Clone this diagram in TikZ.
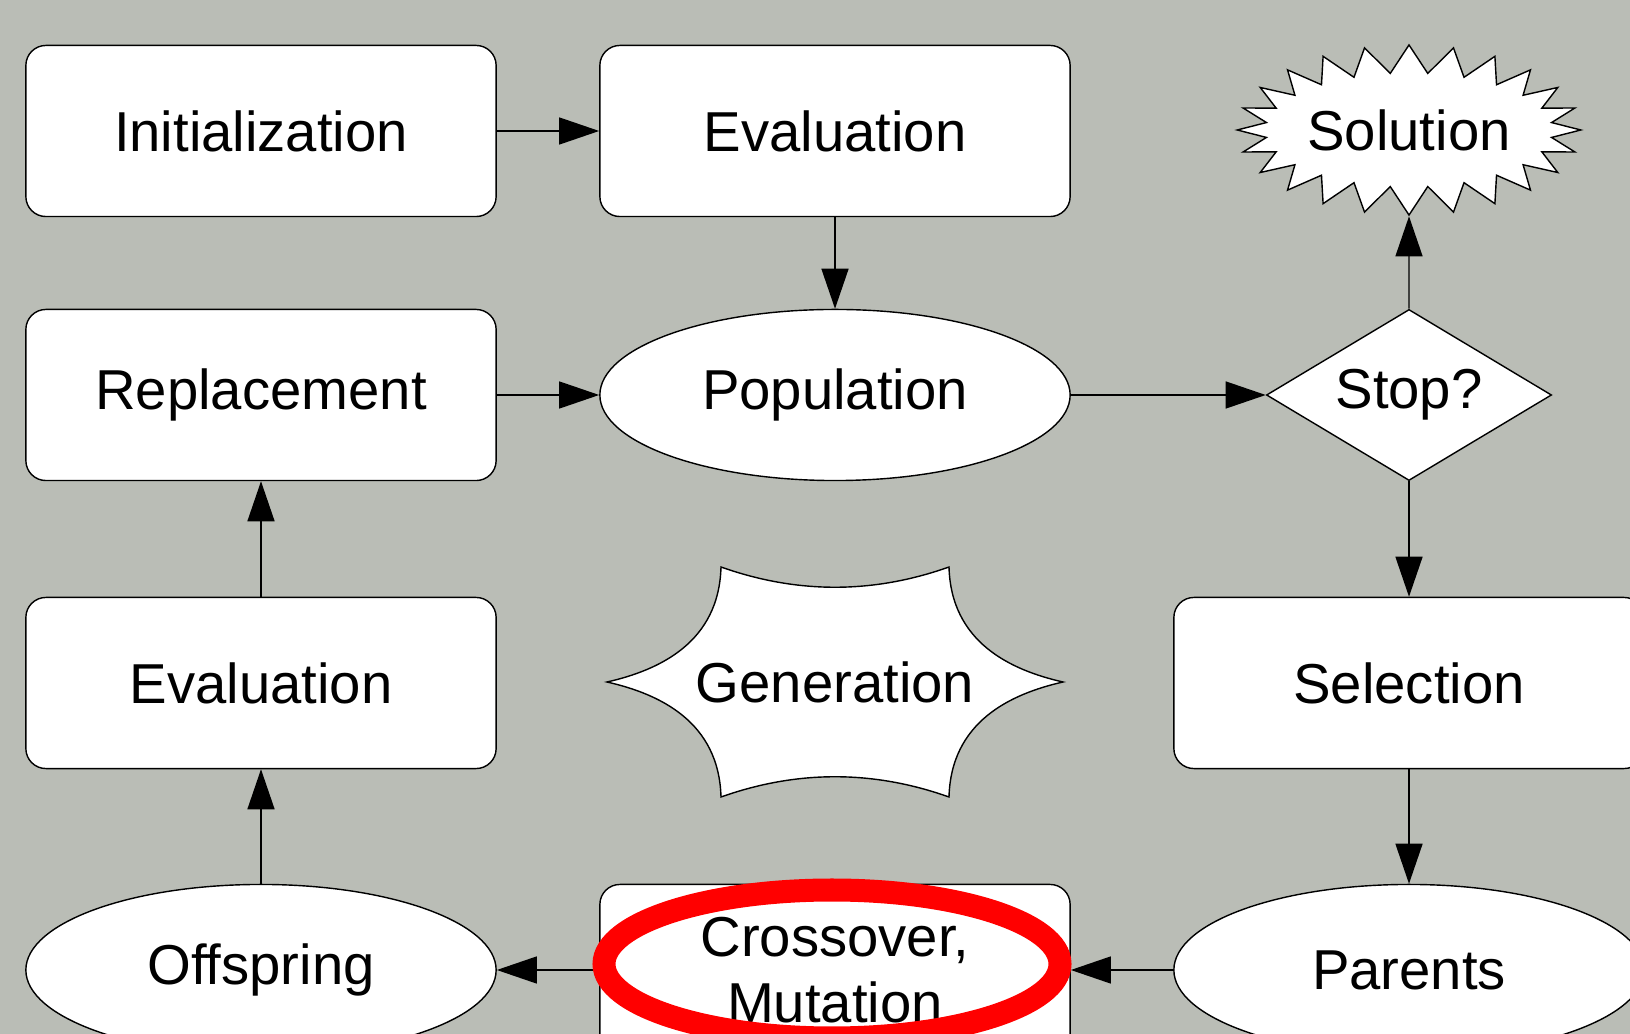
\documentclass[tikz,border=0pt]{standalone}
\usepackage{fontspec}
\setmainfont{Liberation Sans}
\usetikzlibrary{shapes.geometric,shapes.symbols,arrows.meta}
\definecolor{aluminium}{HTML}{BABDB6}

\tikzset{
  every node/.style={font=\fontsize{16}{18.6}\selectfont},
  rbox/.style={draw,fill=white,rectangle,rounded corners=0.2cm,minimum width=4.7cm,minimum height=1.71cm,inner sep=0pt},
  oval/.style={draw,fill=white,ellipse,minimum width=4.7cm,minimum height=1.71cm,inner sep=0pt},
  decide/.style={draw,fill=white,diamond,shape aspect=1.667,minimum width=2.85cm,minimum height=1.71cm,inner sep=0pt},
  burst/.style={draw,fill=white,starburst,starburst points=24,starburst point height=0.28cm,random starburst=0,minimum width=3.38cm,minimum height=1.7cm,inner sep=0pt},
  link/.style={draw,line width=0.4pt,-{Triangle[length=0.4cm,width=0.27cm]}}
}

\begin{document}
\begin{tikzpicture}[x=0.01cm,y=-0.01cm,line width=0.4pt]
  \useasboundingbox (0,0) rectangle (1630,1034);
  \clip (0,0) rectangle (1630,1034);
  \fill[aluminium] (0,0) rectangle (1630,1034);

  \node[rbox] (init) at (261,131) {Initialization};
  \node[rbox] (evalA) at (835,131) {Evaluation};
  \node[burst] (sol) at (1409,130) {Solution};
  \node[rbox] (repl) at (261,395) {Replacement};
  \node[oval] (pop) at (835,395) {Population};
  \node[decide] (stop) at (1409,395) {Stop?};
  \node[rbox] (evalB) at (261,683) {Evaluation};
  \node[rbox] (sel) at (1409,683) {Selection};
  \node[oval] (off) at (261,970) {Offspring};
  \node[rbox,align=center] (cross) at (835,970) {Crossover,\\Mutation};
  \node[oval] (par) at (1409,970) {Parents};

  \draw[fill=white,shift={(835,682)}] (-228,0) .. controls (-175,-12) and (-116,-40) .. (-114,-115)
    .. controls (-38,-88) and (38,-88) .. (114,-115) .. controls (116,-40) and (175,-12) .. (228,0)
    .. controls (175,12) and (116,40) .. (114,115) .. controls (38,88) and (-38,88) .. (-114,115)
    .. controls (-116,40) and (-175,12) .. cycle;
  \node (gen) at (835,682) {Generation};

  \draw[link] (init) -- (evalA);
  \draw[link] (evalA) -- (pop);
  \draw[link] (repl) -- (pop);
  \draw[link] (pop) -- (stop);
  \draw[link] (stop) -- (sol);
  \draw[link] (stop) -- (sel);
  \draw[link] (sel) -- (par);
  \draw[link] (par) -- (cross);
  \draw[link] (cross) -- (off);
  \draw[link] (off) -- (evalB);
  \draw[link] (evalB) -- (repl);

  \draw[red,line width=0.23cm] (832,964) ellipse [x radius=228,y radius=74];
\end{tikzpicture}
\end{document}
